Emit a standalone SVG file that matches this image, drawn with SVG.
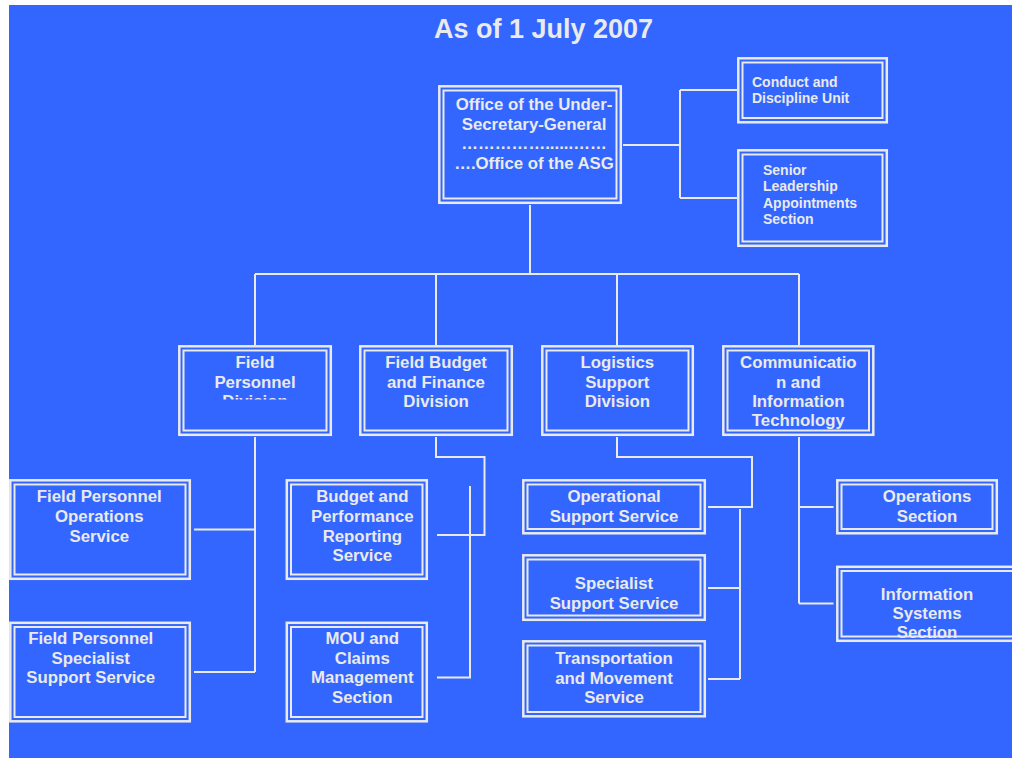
<svg xmlns="http://www.w3.org/2000/svg" width="1012" height="758" viewBox="0 0 1012 758">
<style>
.o{fill:none;stroke:#EAEAEA;stroke-width:2.5}
.i{fill:none;stroke:#EAEAEA;stroke-width:2}
.t{font-family:"Liberation Sans",Arial,sans-serif;font-weight:bold;font-size:16.8px;fill:#EAEAEA;text-anchor:middle}
.s{font-family:"Liberation Sans",Arial,sans-serif;font-weight:bold;font-size:14px;fill:#EAEAEA}
.c{fill:none;stroke:#EAEAEA;stroke-width:2}
</style>
<defs>
<clipPath id="fpdclip"><rect x="178" y="345" width="154" height="54.5"/></clipPath>
</defs>
<rect x="0" y="0" width="1012" height="758" fill="#FFFFFF"/>
<rect x="9" y="5" width="1003" height="753" fill="#3366FF"/>
<text x="543.5" y="38.3" style="font-family:'Liberation Sans',Arial,sans-serif;font-weight:bold;font-size:27px;fill:#EAEAEA;text-anchor:middle">As of 1 July 2007</text>

<g id="connectors">
<path class="c" d="M623,145 H680 M680,90 V198 M680,90 H737 M680,198 H737"/>
<path class="c" d="M530,205 V274 M255,274 H799 M255,274 V345 M436,274 V345 M617,274 V345 M799,274 V345"/>
<path class="c" d="M255,437 V672 M194,529.5 H255 M194,672 H255"/>
<path class="c" d="M436,437 V457 H484.5 V535 H437 M470,486 V677.5 H437"/>
<path class="c" d="M617,437 V457 H752 V507 H708 M740,509 V679 M708,588 H740 M708,679 H740"/>
<path class="c" d="M799,437 V603.5 M799,507 H833.5 M799,603.5 H833.5"/>
</g>

<g id="usg">
<rect class="o" x="439.3" y="86.3" width="181.5" height="116.5"/>
<rect class="i" x="443.5" y="90.5" width="173" height="108"/>
<text class="t" x="534" y="110">Office of the Under-</text>
<text class="t" x="534" y="130">Secretary-General</text>
<text class="t" x="534" y="149">……………......……</text>
<text class="t" x="534" y="169">….Office of the ASG</text>
</g>

<g id="conduct">
<rect class="o" x="738.3" y="58.3" width="148.5" height="64"/>
<rect class="i" x="742.5" y="62.5" width="140" height="55.5"/>
<text class="s" x="752" y="87">Conduct and</text>
<text class="s" x="752" y="103">Discipline Unit</text>
</g>

<g id="senior">
<rect class="o" x="738.3" y="150.3" width="148.5" height="95.5"/>
<rect class="i" x="742.5" y="154.5" width="140" height="87"/>
<text class="s" x="763" y="175">Senior</text>
<text class="s" x="763" y="191">Leadership</text>
<text class="s" x="763" y="207.5">Appointments</text>
<text class="s" x="763" y="224">Section</text>
</g>

<g id="fpd">
<rect class="o" x="179.3" y="346.3" width="151.5" height="88.5"/>
<rect class="i" x="183.5" y="350.5" width="143" height="80"/>
<g clip-path="url(#fpdclip)">
<text class="t" x="255" y="368.3">Field</text>
<text class="t" x="255" y="387.5">Personnel</text>
<text class="t" x="255" y="407">Division</text>
</g>
</g>

<g id="fbfd">
<rect class="o" x="360.3" y="346.3" width="151.5" height="88.5"/>
<rect class="i" x="364.5" y="350.5" width="143" height="80"/>
<text class="t" x="436" y="368.3">Field Budget</text>
<text class="t" x="436" y="387.5">and Finance</text>
<text class="t" x="436" y="407">Division</text>
</g>

<g id="lsd">
<rect class="o" x="542.3" y="346.3" width="150.5" height="88.5"/>
<rect class="i" x="546.5" y="350.5" width="142" height="80"/>
<text class="t" x="617.3" y="368.3">Logistics</text>
<text class="t" x="617.3" y="387.5">Support</text>
<text class="t" x="617.3" y="407">Division</text>
</g>

<g id="cit">
<rect class="o" x="723.3" y="346.3" width="150" height="88.5"/>
<rect class="i" x="727.5" y="350.5" width="141.5" height="80"/>
<text class="t" x="798.3" y="368.3">Communicatio</text>
<text class="t" x="798.3" y="387.5">n and</text>
<text class="t" x="798.3" y="407">Information</text>
<text class="t" x="798.3" y="426">Technology</text>
</g>

<g id="fpos">
<rect class="o" x="10.3" y="480.3" width="179.5" height="98.5"/>
<rect class="i" x="14.5" y="484.5" width="171" height="90"/>
<text class="t" x="99.3" y="502.3">Field Personnel</text>
<text class="t" x="99.3" y="522">Operations</text>
<text class="t" x="99.3" y="541.7">Service</text>
</g>

<g id="fpsss">
<rect class="o" x="10.3" y="622.8" width="179.5" height="98.5"/>
<rect class="i" x="14.5" y="627" width="171" height="90"/>
<text class="t" x="90.7" y="644">Field Personnel</text>
<text class="t" x="90.7" y="664">Specialist</text>
<text class="t" x="90.7" y="683.3">Support Service</text>
</g>

<g id="bprs">
<rect class="o" x="286.8" y="480.3" width="140" height="98.5"/>
<rect class="i" x="291" y="484.5" width="131.5" height="90"/>
<text class="t" x="362.3" y="502.3">Budget and</text>
<text class="t" x="362.3" y="522">Performance</text>
<text class="t" x="362.3" y="541.5">Reporting</text>
<text class="t" x="362.3" y="560.7">Service</text>
</g>

<g id="mou">
<rect class="o" x="286.8" y="622.8" width="140" height="98.5"/>
<rect class="i" x="291" y="627" width="131.5" height="90"/>
<text class="t" x="362.3" y="644">MOU and</text>
<text class="t" x="362.3" y="664">Claims</text>
<text class="t" x="362.3" y="683.3">Management</text>
<text class="t" x="362.3" y="702.7">Section</text>
</g>

<g id="oss">
<rect class="o" x="523.3" y="480.3" width="181.5" height="53"/>
<rect class="i" x="527.5" y="484.5" width="173" height="44.5"/>
<text class="t" x="614" y="502.3">Operational</text>
<text class="t" x="614" y="521.5">Support Service</text>
</g>

<g id="sss">
<rect class="o" x="523.3" y="555.3" width="181.5" height="64.5"/>
<rect class="i" x="527.5" y="559.5" width="173" height="56"/>
<text class="t" x="614" y="589">Specialist</text>
<text class="t" x="614" y="609">Support Service</text>
</g>

<g id="tms">
<rect class="o" x="523.3" y="641.3" width="181.5" height="75"/>
<rect class="i" x="527.5" y="645.5" width="173" height="66.5"/>
<text class="t" x="614" y="664">Transportation</text>
<text class="t" x="614" y="684">and Movement</text>
<text class="t" x="614" y="703">Service</text>
</g>

<g id="opssec">
<rect class="o" x="837.3" y="480.3" width="159.5" height="53"/>
<rect class="i" x="841.5" y="484.5" width="151" height="44.5"/>
<text class="t" x="927" y="502.3">Operations</text>
<text class="t" x="927" y="522">Section</text>
</g>

<g id="iss">
<rect class="o" x="837.3" y="566.8" width="190" height="74"/>
<rect class="i" x="841.5" y="571" width="181.5" height="65.5"/>
<text class="t" x="927" y="600">Information</text>
<text class="t" x="927" y="619">Systems</text>
<text class="t" x="927" y="638.3">Section</text>
</g>
</svg>
